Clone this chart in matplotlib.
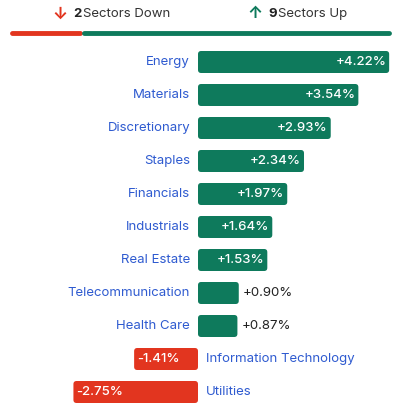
import matplotlib.pyplot as plt
from matplotlib.patches import FancyBboxPatch

plt.rcParams['font.family'] = ['Inter', 'DejaVu Sans']

sectors = ["Energy", "Materials", "Discretionary", "Staples", "Financials", "Industrials",
           "Real Estate", "Telecommunication", "Health Care", "Information Technology", "Utilities"]
changes = [4.22, 3.54, 2.93, 2.34, 1.97, 1.64, 1.53, 0.90, 0.87, -1.41, -2.75]
n_down = 2
n_up = 9

GREEN = "#0e7a5c"
RED = "#e2351f"
BLUE = "#2f5bd0"

W, H = 401, 416
px_x = 45.3   # pixels per percent
px_y = 33.0   # pixels per row
x0, y0 = 198, 62

fig = plt.figure(figsize=(W / 100, H / 100), dpi=100)
ax = fig.add_axes([0, 0, 1, 1])
ax.set_xlim(-x0 / px_x, (W - x0) / px_x)
ax.set_ylim((H - y0) / px_y, -y0 / px_y)
ax.axis('off')

bh = 22 / px_y
asp = (1 / px_y) / (1 / px_x)
for i, (s, v) in enumerate(zip(sectors, changes)):
    col = GREEN if v >= 0 else RED
    left = min(0, v)
    ax.add_patch(FancyBboxPatch((left, i - bh / 2), abs(v), bh,
                                boxstyle="round,pad=0,rounding_size=0.07",
                                mutation_aspect=asp, fc=col, ec='none'))
    lab = f"{v:+.2f}%"
    if v >= 0:
        ax.text(-8 / px_x, i, s, ha='right', va='center', color=BLUE, fontsize=9.5)
        if v > 1.2:
            ax.text(v - 3 / px_x, i, lab, ha='right', va='center', color='white',
                    fontsize=9.5, fontweight='medium')
        else:
            ax.text(v + 4 / px_x, i, lab, ha='left', va='center', color='#222222', fontsize=9.5)
    else:
        ax.text(8 / px_x, i, s, ha='left', va='center', color=BLUE, fontsize=9.5)
        ax.text(v + 3 / px_x, i, lab, ha='left', va='center', color='white',
                fontsize=9.5, fontweight='medium')

# header
def px(x, y):
    return (x - x0) / px_x, (y - y0) / px_y

ax.text(*px(60, 14), "↓", ha='center', va='center', color=RED, fontsize=12, fontweight='bold')
ax.text(*px(73, 14), f"{n_down}", ha='left', va='center', color='#222222', fontsize=9.5, fontweight='bold')
ax.text(*px(83, 14), "Sectors Down", ha='left', va='center', color='#333333', fontsize=9.5)
ax.text(*px(255, 14), "↑", ha='center', va='center', color=GREEN, fontsize=12, fontweight='bold')
ax.text(*px(268, 14), f"{n_up}", ha='left', va='center', color='#222222', fontsize=9.5, fontweight='bold')
ax.text(*px(278, 14), "Sectors Up", ha='left', va='center', color='#333333', fontsize=9.5)

total = n_down + n_up
span = 389 - 12 - 4
xr = 12 + span * n_down / total
ax.plot([px(12, 0)[0], px(xr, 0)[0]], [px(0, 33)[1]] * 2, color=RED, lw=3.5, solid_capstyle='round')
ax.plot([px(xr + 4, 0)[0], px(389, 0)[0]], [px(0, 33)[1]] * 2, color=GREEN, lw=3.5, solid_capstyle='round')

fig.savefig("out.png", dpi=100)
